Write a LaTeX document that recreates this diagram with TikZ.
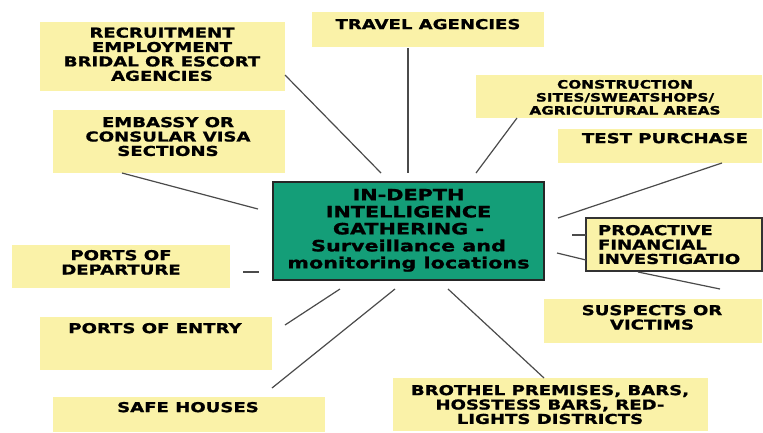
\documentclass[tikz,border=0pt]{standalone}
\usepackage{fontspec}
\newfontfamily\lbl{DejaVu Sans Bold}[FakeStretch=1.33, FakeBold=1.2]
\definecolor{boxyellow}{RGB}{250,242,168}
\definecolor{boxgreen}{RGB}{20,158,120}
\definecolor{linegray}{RGB}{75,75,75}
\begin{document}
\begin{tikzpicture}[x=1pt,y=-1pt,
  ybox/.style={fill=boxyellow,draw=none,inner sep=0pt,outer sep=0pt},
  obox/.style={fill=boxyellow,draw=black!80,line width=1.6pt,inner sep=0pt,outer sep=0pt},
  gbox/.style={fill=boxgreen,draw=black!85,line width=1.6pt,inner sep=0pt,outer sep=0pt},
  lbltext/.style={inner sep=0pt,outer sep=0pt,anchor=north,align=center,
    font=\lbl\fontsize{13.6}{14.4}\selectfont},
  smalltext/.style={lbltext,font=\lbl\fontsize{11.5}{13}\selectfont},
  bigtext/.style={lbltext,font=\lbl\fontsize{15.6}{17}\selectfont},
  conn/.style={draw=linegray,line width=1.2pt}]
\useasboundingbox[fill=white] (0,0) rectangle (763,432);

% boxes
\node[ybox,minimum width=245pt,minimum height=69pt] (recr) at (162.5,56.5) {};
\node[ybox,minimum width=232pt,minimum height=35pt] (travel) at (428,29.5) {};
\node[ybox,minimum width=232pt,minimum height=63pt] (emb) at (169,141.5) {};
\node[ybox,minimum width=286pt,minimum height=43pt] (constr) at (619,96.5) {};
\node[ybox,minimum width=204pt,minimum height=34pt] (test) at (660,146) {};
\node[gbox,minimum width=271pt,minimum height=98pt] (center) at (408.5,231) {};
\node[obox,minimum width=176pt,minimum height=53pt] (proact) at (674,244.5) {};
\node[ybox,minimum width=218pt,minimum height=44pt] (susp) at (653,321) {};
\node[ybox,minimum width=315pt,minimum height=53pt] (broth) at (550.5,404.5) {};
\node[ybox,minimum width=218pt,minimum height=43pt] (depart) at (121,266.5) {};
\node[ybox,minimum width=232pt,minimum height=53pt] (entry) at (156,343.5) {};
\node[ybox,minimum width=272pt,minimum height=35pt] (safe) at (189,414.5) {};

% connector end points
\coordinate (c1a) at (285,75);  \coordinate (c1b) at (381,173);
\coordinate (c2a) at (122,173); \coordinate (c2b) at (258,209);
\coordinate (c3a) at (408,48);  \coordinate (c3b) at (408,173);
\coordinate (c4a) at (517,118); \coordinate (c4b) at (476,173);
\coordinate (c5a) at (722,163); \coordinate (c5b) at (558,218);
\coordinate (c6a) at (572,235); \coordinate (c6b) at (586,235);
\coordinate (c7a) at (557,253); \coordinate (c7b) at (586,260);
\coordinate (c8a) at (638,272); \coordinate (c8b) at (720,289);
\coordinate (c9a) at (243,272); \coordinate (c9b) at (259,272);
\coordinate (c10a) at (285,325); \coordinate (c10b) at (340,289);
\coordinate (c11a) at (272,388); \coordinate (c11b) at (395,289);
\coordinate (c12a) at (448,289); \coordinate (c12b) at (544,378);

\draw[conn] (c1a) -- (c1b);
\draw[conn] (c2a) -- (c2b);
\draw[conn] (c3a) -- (c3b);
\draw[conn] (c4a) -- (c4b);
\draw[conn] (c5a) -- (c5b);
\draw[conn] (c6a) -- (c6b);
\draw[conn] (c7a) -- (c7b);
\draw[conn] (c8a) -- (c8b);
\draw[conn] (c9a) -- (c9b);
\draw[conn] (c10a) -- (c10b);
\draw[conn] (c11a) -- (c11b);
\draw[conn] (c12a) -- (c12b);

% texts
\node[lbltext] (recr-t) at (162,27.5) {RECRUITMENT\\EMPLOYMENT\\BRIDAL OR ESCORT\\AGENCIES};
\node[lbltext] (travel-t) at (428,19) {TRAVEL AGENCIES};
\node[lbltext] (emb-t) at (168,117) {EMBASSY OR\\CONSULAR VISA\\SECTIONS};
\node[smalltext] (constr-t) at (625,80) {CONSTRUCTION\\SITES/SWEATSHOPS/\\AGRICULTURAL AREAS};
\node[lbltext] (test-t) at (665,133) {TEST PURCHASE};
\node[bigtext] (center-t) at (408.5,189) {IN-DEPTH\\INTELLIGENCE\\GATHERING -\\Surveillance and\\monitoring locations};
\node[lbltext,anchor=north west,align=left] (proact-t) at (598,225) {PROACTIVE\\FINANCIAL\\INVESTIGATIO};
\node[lbltext] (susp-t) at (652,305) {SUSPECTS OR\\VICTIMS};
\node[lbltext] (broth-t) at (550,385) {BROTHEL PREMISES, BARS,\\HOSSTESS BARS, RED-\\LIGHTS DISTRICTS};
\node[lbltext] (depart-t) at (121,250) {PORTS OF\\DEPARTURE};
\node[lbltext] (entry-t) at (155,323) {PORTS OF ENTRY};
\node[lbltext] (safe-t) at (188,402) {SAFE HOUSES};
\end{tikzpicture}
\end{document}
